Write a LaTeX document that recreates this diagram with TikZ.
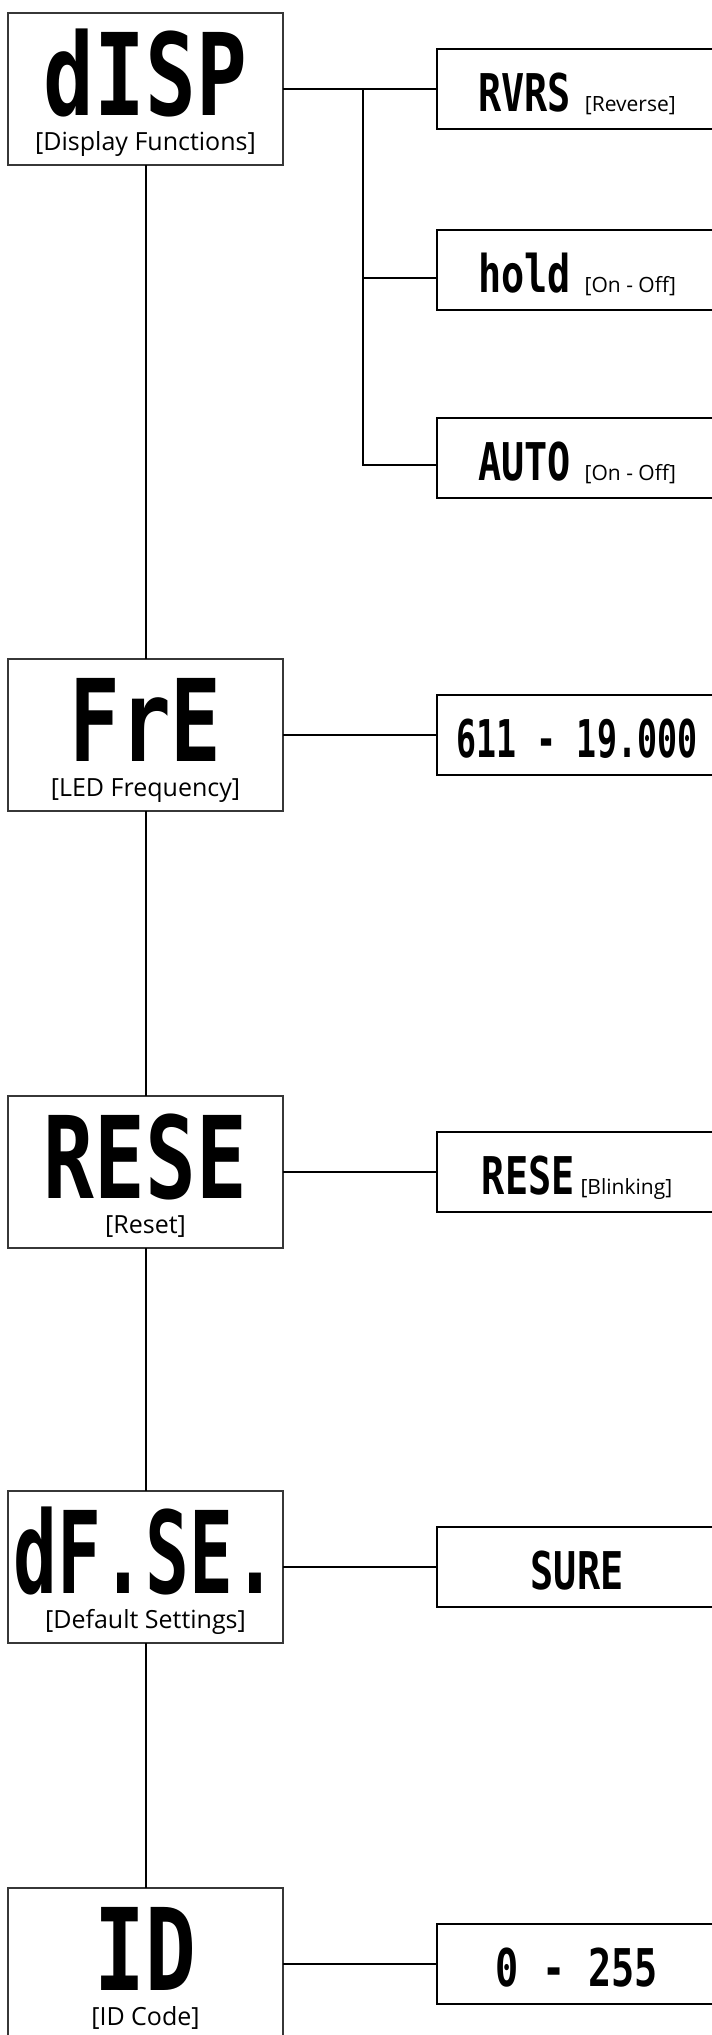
\documentclass[tikz,border=0pt]{standalone}
\usepackage{fontspec}
\setmainfont{Open Sans}
\newfontfamily\lcdfont[FakeStretch=0.74]{DejaVu Sans Mono}
\newfontfamily\lcdnarrow[FakeStretch=0.64]{DejaVu Sans Mono}
\usetikzlibrary{positioning}
\definecolor{framegray}{RGB}{55,55,55}

\tikzset{
  menubox/.style={draw=framegray, line width=2pt, minimum width=275pt, minimum height=152pt, inner sep=0pt, outer sep=0pt},
  optbox/.style={draw=black, line width=2.5pt, minimum width=280pt, minimum height=80pt, inner sep=0pt, outer sep=0pt, text height=44pt, text depth=0pt},
  bigcode/.style={font=\lcdfont\bfseries\fontsize{114}{114}\selectfont, inner sep=0pt, anchor=base, text height=84pt, text depth=0pt},
  tightcode/.style={bigcode, font=\lcdnarrow\bfseries\fontsize{114}{114}\selectfont},
  menulabel/.style={font=\fontsize{25}{25}\selectfont, inner sep=0pt, anchor=base, text height=19pt, text depth=6pt},
  link/.style={draw=black, line width=2pt},
}
\newcommand{\optcode}[1]{{\lcdfont\bfseries\fontsize{52}{52}\selectfont #1}}
\newcommand{\optnarrow}[1]{{\lcdnarrow\bfseries\fontsize{52}{52}\selectfont #1}}
\newcommand{\optnote}[1]{{\fontsize{21}{21}\selectfont #1}}

\begin{document}
\begin{tikzpicture}[x=1pt, y=-1pt]
    \useasboundingbox (0,0) rectangle (712,2035);
    \clip (0,0) rectangle (712,2035);

    % Main menu column
    \node[menubox] (disp) at (145.5,89) {};
    \node[bigcode] (dispcode) at ([yshift=-26pt]disp.center) {dISP};
    \node[menulabel] (displabel) at ([yshift=-61pt]disp.center) {[Display Functions]};

    \node[menubox] (fre) at (145.5,735) {};
    \node[bigcode] (frecode) at ([yshift=-26pt]fre.center) {FrE};
    \node[menulabel] (frelabel) at ([yshift=-61pt]fre.center) {[LED Frequency]};

    \node[menubox] (rese) at (145.5,1172) {};
    \node[bigcode] (resecode) at ([yshift=-26pt]rese.center) {RESE};
    \node[menulabel] (reselabel) at ([yshift=-61pt]rese.center) {[Reset]};

    \node[menubox] (dfse) at (145.5,1567) {};
    \node[tightcode] (dfsecode) at ([yshift=-26pt]dfse.center) {dF.SE.};
    \node[menulabel] (dfselabel) at ([yshift=-61pt]dfse.center) {[Default Settings]};

    \node[menubox] (id) at (145.5,1964) {};
    \node[bigcode] (idcode) at ([yshift=-26pt]id.center) {ID};
    \node[menulabel] (idlabel) at ([yshift=-61pt]id.center) {[ID Code]};

    % Sub menu options
    \node[optbox, right=154pt of disp] (rvrs) {\optcode{RVRS}\hspace{14pt}\optnote{[Reverse]}};
    \node[optbox] (hold) at (577,270) {\optcode{hold}\hspace{14pt}\optnote{[On - Off]}};
    \node[optbox] (auto) at (577,458) {\optcode{AUTO}\hspace{14pt}\optnote{[On - Off]}};
    \node[optbox, right=154pt of fre] (frange) {\optnarrow{611 - 19.000}};
    \node[optbox, right=154pt of rese] (blink) {\optcode{RESE}\hspace{6pt}\optnote{[Blinking]}};
    \node[optbox, right=154pt of dfse] (sure) {\optcode{SURE}};
    \node[optbox, right=154pt of id] (idrange) {\optcode{0 - 255}};

    % Connectors
    \coordinate (fork) at (363,89);
    \coordinate (holdin) at ([yshift=-8pt]hold.west);
    \coordinate (autoin) at ([yshift=-7pt]auto.west);
    \draw[link] (disp.east) -- (rvrs.west);
    \draw[link] (fork) |- (autoin);
    \draw[link] (fork |- holdin) -- (holdin);

    \draw[link] (disp.south) -- (fre.north);
    \draw[link] (fre.south) -- (rese.north);
    \draw[link] (rese.south) -- (dfse.north);
    \draw[link] (dfse.south) -- (id.north);

    \draw[link] (fre.east) -- (frange.west);
    \draw[link] (rese.east) -- (blink.west);
    \draw[link] (dfse.east) -- (sure.west);
    \draw[link] (id.east) -- (idrange.west);
\end{tikzpicture}
\end{document}
